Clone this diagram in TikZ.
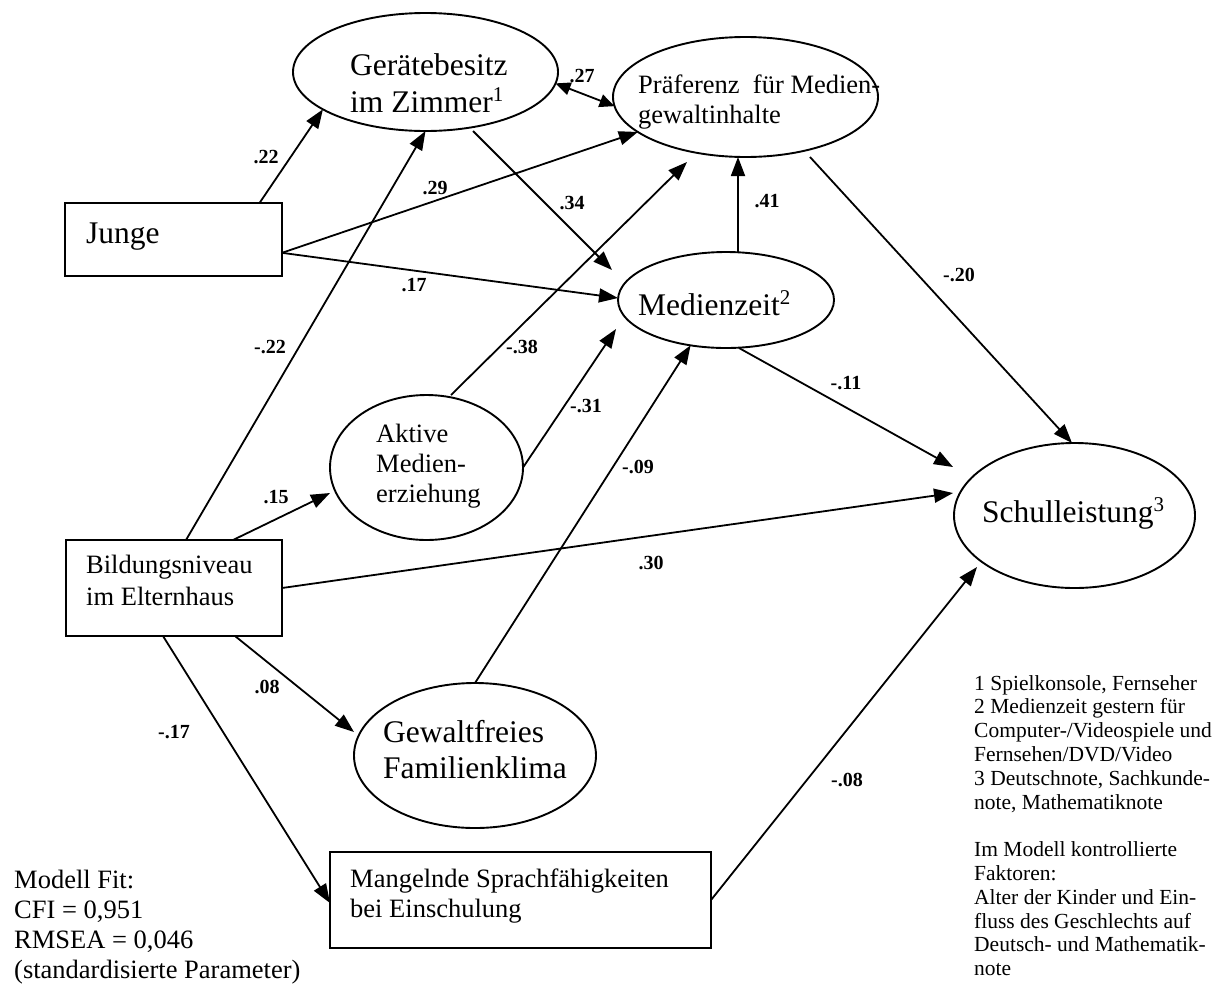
\documentclass[tikz,border=0pt]{standalone}
\usepackage{fontspec}
\setmainfont{Liberation Serif}
\usetikzlibrary{arrows.meta,shapes.geometric}
\newcommand{\supnum}[1]{\raisebox{10.5pt}{\fontsize{21}{21}\selectfont #1}}
\begin{document}
\begin{tikzpicture}[x=1pt,y=-1pt,
  >={Triangle[length=19pt,width=14pt]},
  ell/.style={draw, ellipse, line width=1.9pt, inner sep=0pt, outer sep=0pt},
  boxnode/.style={draw, rectangle, line width=1.9pt, inner sep=0pt, outer sep=0pt},
  bigt/.style={font=\fontsize{31.5}{#1}\selectfont, anchor=base west, inner sep=0pt},
  bigt/.default=36.5,
  midt/.style={font=\fontsize{26.5}{#1}\selectfont, anchor=base west, inner sep=0pt},
  midt/.default=30,
  notet/.style={font=\fontsize{21.5}{23.8}\selectfont, anchor=base west, inner sep=0pt},
  coef/.style={font=\bfseries\fontsize{20}{24}\selectfont, inner sep=0pt},
  arr/.style={line width=1.8pt, ->},
  dbl/.style={line width=1.8pt, {Triangle[length=15pt,width=13pt]}-{Triangle[length=15pt,width=13pt]}}]
\useasboundingbox[fill=white] (0,0) rectangle (1222,983);

% shapes
\node[ell, minimum width=265pt, minimum height=118pt] (ger) at (425.5,72) {};
\node[ell, minimum width=265pt, minimum height=120pt] (pref) at (745.5,97) {};
\node[ell, minimum width=216pt, minimum height=96pt] (med) at (726,300) {};
\node[ell, minimum width=193pt, minimum height=145pt] (akt) at (426.5,467.5) {};
\node[ell, minimum width=241pt, minimum height=145pt] (schul) at (1074.5,515.5) {};
\node[ell, minimum width=242pt, minimum height=145pt] (gew) at (475,755.5) {};
\node[boxnode, minimum width=217pt, minimum height=73pt] (junge) at (173.5,239.5) {};
\node[boxnode, minimum width=216pt, minimum height=96pt] (bild) at (174,588) {};
\node[boxnode, minimum width=381pt, minimum height=96pt] (mang) at (520.5,900) {};

% texts
\node[bigt=37] (tger) at (350,75) {\begin{tabular}[t]{@{}l@{}}Gerätebesitz\\im Zimmer\supnum{1}\end{tabular}};
\node[midt] (tpref) at (638,93) {\begin{tabular}[t]{@{}l@{}}Präferenz\ \ für Medien-\\gewaltinhalte\end{tabular}};
\node[bigt] (tjunge) at (86,243) {Junge};
\node[bigt] (tmed) at (638,315) {Medienzeit\supnum{2}};
\node[midt] (takt) at (376,442) {\begin{tabular}[t]{@{}l@{}}Aktive\\Medien-\\erziehung\end{tabular}};
\node[bigt] (tschul) at (982,522) {Schulleistung\supnum{3}};
\node[midt=32] (tbild) at (86,573) {\begin{tabular}[t]{@{}l@{}}Bildungsniveau\\im Elternhaus\end{tabular}};
\node[bigt=36] (tgew) at (383,742) {\begin{tabular}[t]{@{}l@{}}Gewaltfreies\\Familienklima\end{tabular}};
\node[midt] (tmang) at (350,887) {\begin{tabular}[t]{@{}l@{}}Mangelnde Sprachfähigkeiten\\bei Einschulung\end{tabular}};
\node[midt] (tfit) at (14,888) {\begin{tabular}[t]{@{}l@{}}Modell Fit:\\CFI = 0,951\\RMSEA = 0,046\\(standardisierte Parameter)\end{tabular}};
\node[notet] (tnotes) at (974,690) {\begin{tabular}[t]{@{}l@{}}1 Spielkonsole, Fernseher\\2 Medienzeit gestern für\\Computer-/Videospiele und\\Fernsehen/DVD/Video\\3 Deutschnote, Sachkunde-\\note, Mathematiknote\\ \\Im Modell kontrollierte\\Faktoren:\\Alter der Kinder und Ein-\\fluss des Geschlechts auf\\Deutsch- und Mathematik-\\note\end{tabular}};

% connectors
\draw[arr] (junge.23.4) -- (ger.200.7);
\draw[arr] ([xshift=12pt]bild.north) -- (ger.south);
\draw[arr] (junge.-7) -- (pref.198.4);
\draw[arr] (junge.-7) -- ([yshift=2pt]med.west);
\draw[arr] ([xshift=47.5pt]ger.south) -- ([xshift=-6pt,yshift=30pt]med.west);
\draw[dbl] (ger.-5.9) -- (pref.184.4);
\draw[arr] ([xshift=24.5pt]akt.north) -- ([xshift=-58.5pt,yshift=-65pt]pref.center);
\draw[arr] (akt.east) -- ([xshift=-2pt,yshift=-29pt]med.west);
\draw[arr] ([xshift=12pt]med.north) -- ([xshift=-7.5pt]pref.south);
\draw[arr] ([xshift=64.5pt]pref.south) -- ([xshift=-2.5pt]schul.north);
\draw[arr] ([xshift=13pt]med.south) -- ([xshift=-1pt,yshift=48.5pt]schul.west);
\draw[arr] (bild.east) -- ([xshift=-1pt,yshift=22.5pt]schul.west);
\draw[arr] ([xshift=59pt]bild.north) -- ([yshift=-25.5pt]akt.west);
\draw[arr] (gew.north) -- (med.232);
\draw[arr] ([xshift=61pt]bild.south) -- ([yshift=23.5pt]gew.west);
\draw[arr] ([xshift=-11pt]bild.south) -- ([yshift=-3pt]mang.west);
\draw[arr] (mang.east) -- ([xshift=-97.5pt,yshift=-51.5pt]schul.center);

% coefficients
\node[coef] (c1) at (266,157) {.22};
\node[coef] (c2) at (270,347) {-.22};
\node[coef] (c3) at (435,188) {.29};
\node[coef] (c4) at (414,285) {.17};
\node[coef] (c5) at (572,203) {.34};
\node[coef] (c6) at (582,76) {.27};
\node[coef] (c7) at (522,347) {-.38};
\node[coef] (c8) at (586,406) {-.31};
\node[coef] (c9) at (767,201) {.41};
\node[coef] (c10) at (959,275) {-.20};
\node[coef] (c11) at (846,383) {-.11};
\node[coef] (c12) at (276,497) {.15};
\node[coef] (c13) at (638,467) {-.09};
\node[coef] (c14) at (651,563) {.30};
\node[coef] (c15) at (267,687) {.08};
\node[coef] (c16) at (174,732) {-.17};
\node[coef] (c17) at (847,780) {-.08};
\end{tikzpicture}
\end{document}
